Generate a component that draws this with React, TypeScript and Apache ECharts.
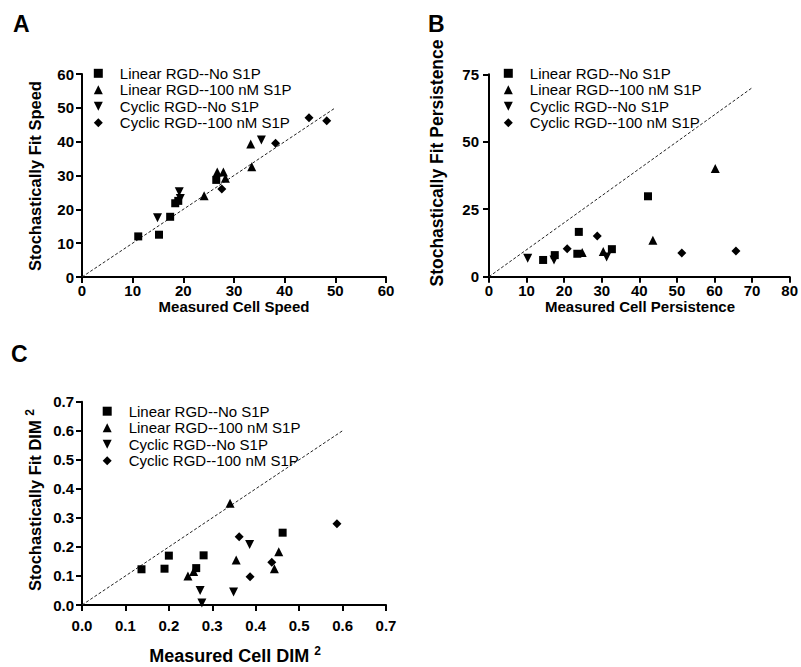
import React, { useEffect, useRef } from "react";
import * as echarts from "echarts";

// ---- Data ----
const seriesNames = [
  "Linear RGD--No S1P",
  "Linear RGD--100 nM S1P",
  "Cyclic RGD--No S1P",
  "Cyclic RGD--100 nM S1P",
];

// Panel A: speed
const speedLinNo = [[11.1, 12.0], [15.2, 12.5], [17.4, 17.8], [18.4, 21.8], [19.0, 22.5], [26.5, 28.7]];
const speedLin100 = [[24.1, 24.0], [26.7, 31.0], [27.9, 31.0], [28.3, 29.2], [33.3, 39.3], [33.5, 32.6]];
const speedCycNo = [[14.9, 17.5], [19.2, 25.2], [19.4, 23.2], [35.4, 40.5]];
const speedCyc100 = [[27.6, 26.0], [38.2, 39.5], [44.8, 47.1], [48.3, 46.2]];
const speedIdentity = [[0, 0], [50, 50]];

// Panel B: persistence
const persLinNo = [[14.4, 6.2], [17.5, 8.0], [23.5, 8.5], [23.9, 16.6], [32.7, 10.2], [42.3, 29.8]];
const persLin100 = [[24.8, 9.0], [30.4, 9.3], [43.6, 13.5], [60.2, 40.1]];
const persCycNo = [[10.3, 6.8], [17.3, 6.2], [31.3, 7.3]];
const persCyc100 = [[20.8, 10.4], [28.8, 15.1], [51.3, 8.8], [65.7, 9.5]];
const persIdentity = [[0, 0], [70, 70]];

// Panel C: DIM^2
const dimLinNo = [[0.137, 0.123], [0.19, 0.125], [0.2, 0.17], [0.263, 0.127], [0.28, 0.171], [0.462, 0.249]];
const dimLin100 = [[0.244, 0.1], [0.257, 0.115], [0.341, 0.35], [0.355, 0.155], [0.443, 0.125], [0.453, 0.183]];
const dimCycNo = [[0.272, 0.05], [0.276, 0.007], [0.349, 0.045], [0.386, 0.208]];
const dimCyc100 = [[0.362, 0.235], [0.387, 0.097], [0.437, 0.147], [0.587, 0.28]];
const dimIdentity = [[0, 0], [0.6, 0.6]];

const FONT = "Liberation Sans, Arial, Helvetica, sans-serif";
const TRI_DOWN = "path://M0,0L10,0L5,10Z";
const symbols = ["rect", "triangle", TRI_DOWN, "diamond"];
const symbolSizes = [8, 9, 9, 9];

function makeAxis(min: number, max: number, interval: number, gridIndex: number, decimals: number, margin: number) {
  return {
    type: "value",
    gridIndex,
    min,
    max,
    interval,
    splitLine: { show: false },
    axisLine: { show: true, onZero: false, lineStyle: { color: "#000", width: 2 } },
    axisTick: { show: true, length: 6, lineStyle: { color: "#000", width: 2 } },
    axisLabel: {
      color: "#000",
      fontFamily: FONT,
      fontWeight: "bold",
      fontSize: 15,
      margin,
      formatter: (v: number) => v.toFixed(decimals),
    },
  };
}

export default function App() {
  const ref = useRef<HTMLDivElement>(null);
  useEffect(() => {
    document.body.style.margin = "0";
    if (!ref.current) return;
    const chart = echarts.init(ref.current, null, { renderer: "svg" });

    const panels = [
      { sets: [speedLinNo, speedLin100, speedCycNo, speedCyc100], identity: speedIdentity },
      { sets: [persLinNo, persLin100, persCycNo, persCyc100], identity: persIdentity },
      { sets: [dimLinNo, dimLin100, dimCycNo, dimCyc100], identity: dimIdentity },
    ];

    const series: any[] = [];
    panels.forEach((p, gi) => {
      p.sets.forEach((data, si) => {
        series.push({
          type: "scatter",
          name: seriesNames[si],
          xAxisIndex: gi,
          yAxisIndex: gi,
          data,
          symbol: symbols[si],
          symbolSize: symbolSizes[si],
          itemStyle: { color: "#000", opacity: 1 },
          silent: true,
        });
      });
      series.push({
        type: "line",
        name: "identity" + gi,
        xAxisIndex: gi,
        yAxisIndex: gi,
        data: p.identity,
        showSymbol: false,
        symbol: "none",
        lineStyle: { color: "#222", width: 1, type: [3, 2] },
        silent: true,
        z: 1,
      });
    });

    const legendBase = (left: number, top: number) => ({
      orient: "vertical",
      left,
      top,
      padding: 0,
      itemWidth: 9,
      itemHeight: 9,
      itemGap: 1.5,
      selectedMode: false,
      data: seriesNames.map((n, i) => ({ name: n, icon: symbols[i] })),
      textStyle: { color: "#000", fontFamily: FONT, fontSize: 15, padding: [0, 0, 0, 12] },
      itemStyle: { color: "#000", opacity: 1 },
    });

    const titleStyle = { fill: "#000", fontFamily: FONT, fontWeight: "bold", fontSize: 15 };
    const supRich = { sup: { fontFamily: FONT, fontWeight: "bold", fontSize: 12, fill: "#000", padding: [0, 0, 10, 0] } };

    const option: any = {
      animation: false,
      backgroundColor: "#fff",
      grid: [
        { left: 82, top: 74, width: 304, height: 203 },
        { left: 489, top: 74.3, width: 305, height: 202.4 },
        { left: 82, top: 401.7, width: 304, height: 203.3 },
      ],
      xAxis: [
        makeAxis(0, 60, 10, 0, 0, 6),
        makeAxis(0, 80, 10, 1, 0, 6),
        makeAxis(0, 0.7, 0.1, 2, 1, 13),
      ],
      yAxis: [
        makeAxis(0, 60, 10, 0, 0, 8),
        makeAxis(0, 75, 25, 1, 0, 10),
        makeAxis(0, 0.7, 0.1, 2, 1, 8),
      ],
      legend: [legendBase(93.8, 65.8), legendBase(503.8, 65.8), legendBase(102.7, 403.7)],
      series,
      graphic: [
        { type: "text", left: 13, top: 12, style: { text: "A", fill: "#000", fontFamily: FONT, fontWeight: "bold", fontSize: 23 } },
        { type: "text", left: 428, top: 12, style: { text: "B", fill: "#000", fontFamily: FONT, fontWeight: "bold", fontSize: 23 } },
        { type: "text", left: 11, top: 342, style: { text: "C", fill: "#000", fontFamily: FONT, fontWeight: "bold", fontSize: 23 } },
        { type: "text", x: 234, y: 306, style: { ...titleStyle, text: "Measured Cell Speed", align: "center", verticalAlign: "middle" } },
        { type: "text", x: 640, y: 306, style: { ...titleStyle, text: "Measured Cell Persistence", align: "center", verticalAlign: "middle" } },
        {
          type: "text", x: 235, y: 656,
          style: { ...titleStyle, fontSize: 18, text: "Measured Cell DIM {sup|2}", align: "center", verticalAlign: "middle", rich: supRich },
        },
        { type: "text", x: 35, y: 176, rotation: Math.PI / 2, style: { ...titleStyle, fontSize: 16.5, text: "Stochastically Fit Speed", align: "center", verticalAlign: "middle" } },
        { type: "text", x: 437, y: 163, rotation: Math.PI / 2, style: { ...titleStyle, fontSize: 17.5, text: "Stochastically Fit Persistence", align: "center", verticalAlign: "middle" } },
        {
          type: "text", x: 35, y: 500, rotation: Math.PI / 2,
          style: { ...titleStyle, fontSize: 16.5, text: "Stochastically Fit DIM {sup|2}", align: "center", verticalAlign: "middle", rich: supRich },
        },
      ],
    };
    chart.setOption(option);
    return () => chart.dispose();
  }, []);
  return <div ref={ref} style={{ width: 801, height: 667 }} />;
}
